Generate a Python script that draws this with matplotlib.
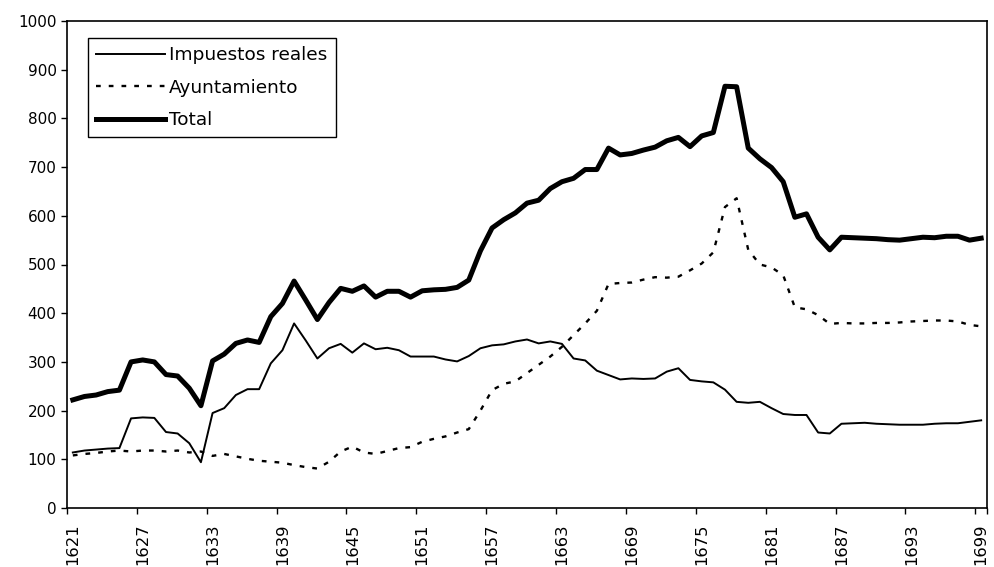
import matplotlib
matplotlib.use("Agg")
import matplotlib.pyplot as plt
from matplotlib.ticker import FixedLocator, NullFormatter

years = list(range(1621, 1700))

impuestos_reales = [
    114, 118, 120, 122, 123, 184, 186, 185, 156, 153,
    133, 94, 195, 205, 232, 244, 244, 297, 324, 379,
    344, 307, 328, 337, 319, 338, 326, 329, 324, 311,
    311, 311, 305, 301, 312, 328, 334, 336, 342, 346,
    338, 342, 337, 307, 303, 282, 273, 264, 266, 265,
    266, 280, 287, 263, 260, 258, 243, 218, 216, 218,
    205, 193, 191, 191, 155, 153, 173, 174, 175, 173,
    172, 171, 171, 171, 173, 174, 174, 177, 180,
]

ayuntamiento = [
    108, 111, 113, 116, 118, 116, 118, 118, 116, 118,
    114, 116, 107, 111, 106, 101, 97, 95, 93, 88,
    84, 81, 95, 116, 126, 114, 111, 117, 123, 125,
    136, 142, 147, 155, 162, 200, 242, 255, 260, 277,
    294, 311, 331, 355, 379, 405, 460, 462, 463, 469,
    474, 473, 475, 488, 502, 525, 618, 636, 530, 500,
    494, 478, 412, 408, 396, 378, 380, 379, 379, 380,
    380, 381, 383, 384, 385, 385, 383, 376, 373,
]

total = [
    222, 229, 232, 239, 242, 300, 304, 300, 274, 271,
    246, 210, 302, 316, 338, 345, 340, 393, 420, 466,
    427, 387, 422, 451, 445, 456, 433, 445, 445, 433,
    446, 448, 449, 453, 468, 528, 575, 592, 606, 626,
    632, 656, 670, 677, 695, 695, 739, 725, 728, 735,
    741, 754, 761, 742, 764, 771, 866, 865, 739, 717,
    699, 670, 597, 604, 556, 530, 556, 555, 554, 553,
    551, 550, 553, 556, 555, 558, 558, 550, 554,
]

series_labels = ["Impuestos reales", "Ayuntamiento", "Total"]
label_years = list(range(1621, 1700, 6))
y_ticks = list(range(0, 1001, 100))

plt.rcParams["font.family"] = ["DejaVu Sans"]

W, H = 994, 567
fig = plt.figure(figsize=(W / 100, H / 100), dpi=100)
ax = fig.add_axes([67 / W, 1 - 508 / H, 920 / W, 487 / H])

ax.plot(years, impuestos_reales, color="black", lw=1.4, label=series_labels[0])
ax.plot(years, ayuntamiento, color="black", lw=1.7, linestyle=(0, (2.0, 3.4)),
        label=series_labels[1])
ax.plot(years, total, color="black", lw=3.6, label=series_labels[2])

ax.set_xlim(1620.5, 1699.5)
ax.set_ylim(0, 1000)

# category-axis style: labels at categories, tick marks at boundaries
ax.xaxis.set_major_locator(FixedLocator(label_years))
ax.set_xticklabels([str(y) for y in label_years], rotation=90, fontsize=11.8)
ax.tick_params(axis="x", which="major", length=0, pad=11)
minor_pos = [y - 0.5 for y in label_years] + [1699.5]
ax.xaxis.set_minor_locator(FixedLocator(minor_pos))
ax.xaxis.set_minor_formatter(NullFormatter())
ax.tick_params(axis="x", which="minor", length=4.5, width=1.0, direction="out")

ax.set_yticks(y_ticks)
ax.tick_params(axis="y", length=4.5, width=1.0, direction="out", labelsize=11, pad=3)

for s in ax.spines.values():
    s.set_linewidth(1.2)
    s.set_color("black")

leg = ax.legend(loc="upper left", bbox_to_anchor=(88 / W, 1 - 38 / H),
                bbox_transform=fig.transFigure, borderaxespad=0,
                fontsize=13.3, handlelength=3.7, handletextpad=0.25,
                borderpad=0.45, labelspacing=0.78, fancybox=False,
                framealpha=1, edgecolor="black")
leg.get_frame().set_linewidth(1.0)

fig.savefig("out.png", dpi=100)
